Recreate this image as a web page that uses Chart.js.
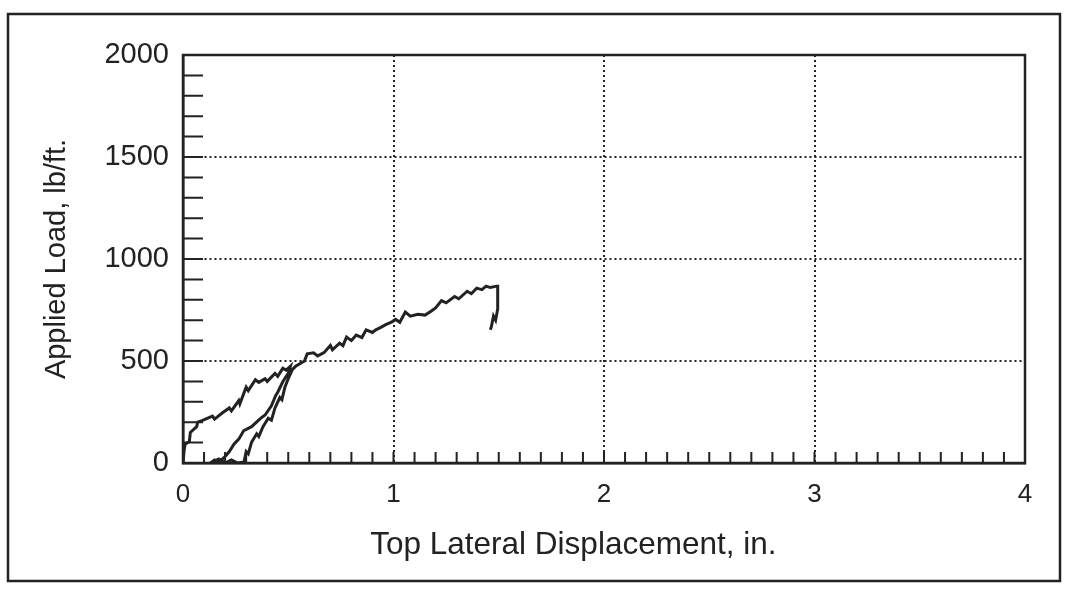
<!DOCTYPE html>
<html>
<head>
<meta charset="utf-8">
<script src="https://cdn.jsdelivr.net/npm/chart.js@4"></script>
<style>
    html, body { margin: 0; padding: 0; background: #fff; }
    #wrap { width: 1065px; height: 594px; }
</style>
</head>
<body>
<div id="wrap"><canvas id="loadChart"></canvas></div>
<script>
// displacement (in.) and applied load (lb/ft.) along the test record
const dispIn = [
    0, 0.005, 0.01, 0.03, 0.035, 0.065, 0.07, 0.093, 0.14, 0.15, 0.186, 0.22, 0.23, 0.265, 0.27, 0.30, 0.31, 0.344, 0.36, 0.39, 0.40, 0.437, 0.45, 0.474, 0.49, 0.51,
    0.50, 0.474, 0.45, 0.44, 0.42, 0.39, 0.37, 0.358, 0.326, 0.31, 0.288, 0.265, 0.242, 0.22, 0.195, 0.17,
    0.15, 0.13, 0.17, 0.20, 0.23, 0.26, 0.29,
    0.30, 0.31, 0.326, 0.35, 0.36, 0.38, 0.405, 0.42, 0.437, 0.46, 0.47, 0.484, 0.50, 0.52, 0.535, 0.553,
    0.577, 0.59, 0.62, 0.64, 0.67, 0.70, 0.71, 0.744, 0.76, 0.777, 0.80, 0.823, 0.85, 0.87, 0.90, 0.916, 0.94, 0.963, 0.99, 1.01, 1.03,
    1.056, 1.08, 1.116, 1.15, 1.18, 1.20, 1.228, 1.25, 1.29, 1.31, 1.35, 1.37, 1.395, 1.42, 1.44, 1.46, 1.49, 1.495,
    1.495, 1.485, 1.475, 1.465, 1.46
];
const loadLbFt = [
    0, 60, 92, 105, 150, 178, 200, 209, 230, 215, 245, 270, 255, 306, 290, 372, 355, 408, 395, 413, 400, 439, 425, 464, 455, 474,
    440, 398, 347, 330, 280, 235, 220, 209, 178, 170, 158, 117, 92, 56, 26, 5,
    15, 0, 20, 0, 15, 0, 5,
    56, 45, 102, 143, 130, 178, 219, 210, 270, 321, 310, 372, 413, 459, 474, 485,
    500, 535, 540, 525, 541, 576, 555, 587, 575, 617, 600, 627, 615, 653, 640, 653, 665, 678, 690, 704, 690,
    740, 720, 729, 725, 745, 760, 796, 785, 816, 805, 842, 830, 857, 850, 867, 860, 867, 867,
    755, 700, 720, 668, 653
];

const xTicks = [0, 1, 2, 3, 4];
const yTicks = [0, 500, 1000, 1500, 2000];
const xMinorStep = 0.1;
const yMinorStep = 100;

const ink = '#222';
const fontFamily = '"Liberation Sans", Arial, sans-serif';

// white page with the scanned frame round the figure
const pageFrame = {
    id: 'pageFrame',
    beforeDraw(chart) {
        const ctx = chart.ctx;
        ctx.save();
        ctx.fillStyle = '#fff';
        ctx.fillRect(0, 0, chart.width, chart.height);
        ctx.strokeStyle = ink;
        ctx.lineWidth = 2.5;
        ctx.strokeRect(8, 14, 1052, 567);
        ctx.restore();
    }
};

// small inward ticks and the box round the plot
const innerTicks = {
    id: 'innerTicks',
    afterDatasetsDraw(chart) {
        const ctx = chart.ctx;
        const a = chart.chartArea;
        const xs = chart.scales.x, ys = chart.scales.y;
        ctx.save();
        ctx.strokeStyle = ink;
        ctx.lineWidth = 2;
        ctx.beginPath();
        for (let i = 1; i < Math.round((xs.max - xs.min) / xMinorStep); i++) {
            const px = xs.getPixelForValue(xs.min + i * xMinorStep);
            ctx.moveTo(px, a.bottom);
            ctx.lineTo(px, a.bottom - 11);
        }
        for (let i = 1; i < Math.round((ys.max - ys.min) / yMinorStep); i++) {
            const py = ys.getPixelForValue(ys.min + i * yMinorStep);
            ctx.moveTo(a.left, py);
            ctx.lineTo(a.left + 20, py);
        }
        ctx.stroke();
        ctx.lineWidth = 2.5;
        ctx.strokeRect(a.left, a.top, a.right - a.left, a.bottom - a.top);
        ctx.restore();
    }
};

new Chart(document.getElementById('loadChart'), {
    type: 'scatter',
    data: {
        datasets: [{
            data: dispIn.map((d, i) => ({x: d, y: loadLbFt[i]})),
            showLine: true,
            borderColor: ink,
            borderWidth: 3,
            pointRadius: 0,
            tension: 0,
        }]
    },
    options: {
        responsive: true,
        maintainAspectRatio: false,
        animation: false,
        layout: {
            padding: {left: 30, right: 40, top: 55, bottom: 30}
        },
        scales: {
            x: {
                type: 'linear',
                min: xTicks[0],
                max: xTicks[xTicks.length - 1],
                afterBuildTicks: s => { s.ticks = xTicks.map(v => ({value: v})); },
                afterFit: s => { s.height = 101; },
                ticks: {
                    color: ink,
                    padding: 16,
                    maxRotation: 0,
                    callback: v => String(v),
                    font: {family: fontFamily, size: 26},
                },
                grid: {color: ink, lineWidth: 2, drawTicks: false},
                border: {display: true, color: ink, width: 2.5, dash: [2, 3]},
                title: {
                    display: true,
                    // trailing spaces pull the caption a little left, as in the original
                    text: 'Top Lateral Displacement, in.       ',
                    color: ink,
                    padding: {top: 0, bottom: 0},
                    font: {family: fontFamily, size: 31.5},
                }
            },
            y: {
                type: 'linear',
                min: yTicks[0],
                max: yTicks[yTicks.length - 1],
                afterBuildTicks: s => { s.ticks = yTicks.map(v => ({value: v})); },
                afterFit: s => { s.width = 153; },
                ticks: {
                    color: ink,
                    padding: 14,
                    callback: v => String(v),
                    font: {family: fontFamily, size: 29},
                },
                grid: {color: ink, lineWidth: 2, drawTicks: false},
                border: {display: true, color: ink, width: 2.5, dash: [2, 3]},
                title: {
                    display: true,
                    text: 'Applied Load, lb/ft.',
                    color: ink,
                    padding: {top: 10, bottom: 0},
                    font: {family: fontFamily, size: 29},
                }
            }
        },
        plugins: {
            legend: {display: false},
            tooltip: {enabled: false}
        }
    },
    plugins: [pageFrame, innerTicks]
});
</script>
</body>
</html>
